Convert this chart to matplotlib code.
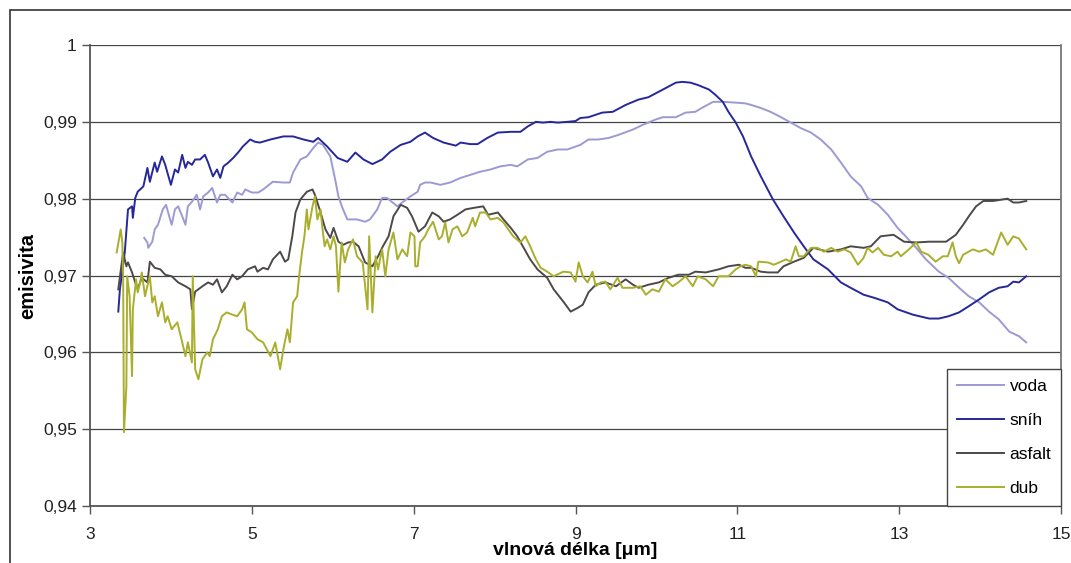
import matplotlib
matplotlib.use("Agg")
import matplotlib.pyplot as plt
from matplotlib.patches import Rectangle
from matplotlib.ticker import FuncFormatter, MultipleLocator

plt.rcParams["font.family"] = ["Liberation Sans", "DejaVu Sans"]

# emisivita vs. vlnová délka
voda_x = [3.67, 3.71, 3.72, 3.77, 3.80, 3.84, 3.90, 3.94, 3.99, 4.01, 4.05, 4.09, 4.14, 4.18,
          4.21, 4.26, 4.32, 4.36, 4.40, 4.46, 4.51, 4.57, 4.61, 4.67, 4.76, 4.82, 4.88, 4.92,
          5.00, 5.08, 5.14, 5.26, 5.39, 5.47, 5.51, 5.60, 5.68, 5.76, 5.82, 5.88, 5.97, 6.03,
          6.07, 6.12, 6.18, 6.30, 6.40, 6.46, 6.55, 6.61, 6.67, 6.74, 6.80, 6.87, 6.96, 7.05,
          7.08, 7.14, 7.21, 7.33, 7.45, 7.58, 7.70, 7.82, 7.95, 8.07, 8.20, 8.28, 8.41, 8.53,
          8.65, 8.78, 8.90, 9.06, 9.16, 9.28, 9.41, 9.53, 9.71, 9.83, 9.99, 10.08, 10.24, 10.36,
          10.48, 10.56, 10.70, 10.82, 10.98, 11.10, 11.17, 11.29, 11.41, 11.54, 11.66, 11.78,
          11.91, 12.03, 12.16, 12.28, 12.40, 12.53, 12.61, 12.74, 12.86, 12.98, 13.08, 13.21,
          13.33, 13.49, 13.61, 13.74, 13.86, 13.99, 14.11, 14.23, 14.36, 14.48, 14.57]
voda_y = [0.9749, 0.9743, 0.9736, 0.9744, 0.9760, 0.9766, 0.9786, 0.9792, 0.9773, 0.9766,
          0.9786, 0.9790, 0.9777, 0.9766, 0.9790, 0.9796, 0.9805, 0.9786, 0.9803, 0.9808,
          0.9814, 0.9795, 0.9805, 0.9805, 0.9795, 0.9808, 0.9805, 0.9812, 0.9808, 0.9808,
          0.9812, 0.9822, 0.9821, 0.9821, 0.9834, 0.9851, 0.9855, 0.9866, 0.9873, 0.9870,
          0.9855, 0.9825, 0.9803, 0.9788, 0.9773, 0.9773, 0.9770, 0.9773, 0.9786, 0.9801,
          0.9801, 0.9795, 0.9790, 0.9796, 0.9803, 0.9809, 0.9818, 0.9821, 0.9821, 0.9818,
          0.9821, 0.9827, 0.9831, 0.9835, 0.9838, 0.9842, 0.9844, 0.9842, 0.9851, 0.9853,
          0.9861, 0.9864, 0.9864, 0.9870, 0.9877, 0.9877, 0.9879, 0.9883, 0.9890, 0.9896,
          0.9903, 0.9906, 0.9906, 0.9912, 0.9913, 0.9918, 0.9926, 0.9926, 0.9925, 0.9924,
          0.9922, 0.9918, 0.9913, 0.9906, 0.9899, 0.9892, 0.9886, 0.9877, 0.9864, 0.9847,
          0.9829, 0.9816, 0.9801, 0.9792, 0.9779, 0.9762, 0.9751, 0.9736, 0.9721, 0.9705,
          0.9697, 0.9684, 0.9673, 0.9665, 0.9653, 0.9643, 0.9627, 0.9621, 0.9613]

snih_x = [3.35, 3.37, 3.43, 3.47, 3.52, 3.53, 3.56, 3.59, 3.66, 3.71, 3.74, 3.80, 3.83, 3.89,
          3.93, 4.00, 4.05, 4.09, 4.14, 4.18, 4.21, 4.26, 4.30, 4.36, 4.42, 4.46, 4.52, 4.57,
          4.61, 4.65, 4.71, 4.77, 4.83, 4.89, 4.98, 5.04, 5.10, 5.23, 5.39, 5.51, 5.64, 5.76,
          5.82, 5.93, 6.06, 6.18, 6.28, 6.38, 6.49, 6.61, 6.71, 6.84, 6.96, 7.05, 7.14, 7.24,
          7.37, 7.52, 7.58, 7.70, 7.79, 7.91, 8.04, 8.20, 8.32, 8.41, 8.51, 8.60, 8.69, 8.78,
          8.90, 9.00, 9.06, 9.16, 9.33, 9.46, 9.62, 9.78, 9.90, 10.08, 10.24, 10.32, 10.42,
          10.51, 10.65, 10.73, 10.82, 10.89, 10.98, 11.07, 11.17, 11.29, 11.44, 11.57, 11.70,
          11.82, 11.94, 12.12, 12.28, 12.40, 12.56, 12.69, 12.86, 12.98, 13.17, 13.37, 13.49,
          13.61, 13.74, 13.86, 13.99, 14.11, 14.23, 14.34, 14.41, 14.48, 14.57]
snih_y = [0.9653, 0.9682, 0.9730, 0.9786, 0.9790, 0.9775, 0.9801, 0.9809, 0.9816, 0.9840,
          0.9822, 0.9847, 0.9835, 0.9855, 0.9844, 0.9818, 0.9838, 0.9834, 0.9857, 0.9840,
          0.9848, 0.9844, 0.9851, 0.9851, 0.9857, 0.9847, 0.9829, 0.9838, 0.9827, 0.9842,
          0.9847, 0.9853, 0.9860, 0.9868, 0.9877, 0.9874, 0.9873, 0.9877, 0.9881, 0.9881,
          0.9877, 0.9874, 0.9879, 0.9868, 0.9853, 0.9848, 0.9860, 0.9851, 0.9845, 0.9851,
          0.9861, 0.9870, 0.9874, 0.9881, 0.9886, 0.9879, 0.9873, 0.9869, 0.9873, 0.9871,
          0.9871, 0.9879, 0.9886, 0.9887, 0.9887, 0.9894, 0.9900, 0.9899, 0.9900, 0.9899,
          0.9900, 0.9901, 0.9905, 0.9906, 0.9912, 0.9913, 0.9922, 0.9929, 0.9932, 0.9942,
          0.9951, 0.9952, 0.9951, 0.9948, 0.9942, 0.9935, 0.9926, 0.9913, 0.9899, 0.9881,
          0.9855, 0.9829, 0.9799, 0.9777, 0.9756, 0.9738, 0.9721, 0.9708, 0.9691, 0.9684,
          0.9675, 0.9671, 0.9665, 0.9656, 0.9649, 0.9644, 0.9644, 0.9647, 0.9652, 0.9660,
          0.9669, 0.9678, 0.9684, 0.9686, 0.9692, 0.9691, 0.9699]

asfalt_x = [3.35, 3.41, 3.45, 3.47, 3.52, 3.56, 3.59, 3.64, 3.71, 3.74, 3.80, 3.87, 3.93, 4.01,
            4.09, 4.18, 4.24, 4.26, 4.30, 4.39, 4.46, 4.52, 4.57, 4.63, 4.69, 4.76, 4.82, 4.88,
            4.95, 5.04, 5.07, 5.14, 5.20, 5.26, 5.35, 5.41, 5.45, 5.50, 5.54, 5.60, 5.68, 5.75,
            5.78, 5.85, 5.91, 5.97, 6.01, 6.07, 6.13, 6.19, 6.25, 6.32, 6.40, 6.49, 6.56, 6.62,
            6.69, 6.75, 6.84, 6.92, 6.98, 7.06, 7.14, 7.23, 7.31, 7.37, 7.45, 7.54, 7.64, 7.74,
            7.86, 7.92, 8.04, 8.11, 8.20, 8.28, 8.36, 8.44, 8.53, 8.65, 8.73, 8.85, 8.94, 9.03,
            9.09, 9.16, 9.25, 9.37, 9.50, 9.62, 9.71, 9.78, 9.90, 10.03, 10.15, 10.27, 10.40,
            10.48, 10.61, 10.77, 10.89, 11.02, 11.10, 11.17, 11.29, 11.38, 11.50, 11.57, 11.70,
            11.82, 11.94, 12.12, 12.28, 12.40, 12.56, 12.65, 12.77, 12.93, 13.06, 13.21, 13.37,
            13.58, 13.70, 13.79, 13.86, 13.95, 14.04, 14.16, 14.28, 14.34, 14.41, 14.48, 14.57]
asfalt_y = [0.9682, 0.9730, 0.9712, 0.9717, 0.9704, 0.9691, 0.9682, 0.9697, 0.9691, 0.9718,
            0.9710, 0.9708, 0.9701, 0.9699, 0.9691, 0.9686, 0.9682, 0.9656, 0.9679, 0.9686,
            0.9691, 0.9688, 0.9695, 0.9678, 0.9686, 0.9701, 0.9695, 0.9699, 0.9708, 0.9712,
            0.9705, 0.9710, 0.9708, 0.9721, 0.9731, 0.9718, 0.9721, 0.9751, 0.9782, 0.9799,
            0.9809, 0.9812, 0.9805, 0.9782, 0.9760, 0.9749, 0.9762, 0.9744, 0.9740, 0.9743,
            0.9744, 0.9738, 0.9717, 0.9712, 0.9725, 0.9738, 0.9751, 0.9777, 0.9792, 0.9788,
            0.9777, 0.9757, 0.9764, 0.9782, 0.9777, 0.9770, 0.9773, 0.9779, 0.9786, 0.9788,
            0.9790, 0.9779, 0.9782, 0.9773, 0.9762, 0.9751, 0.9736, 0.9721, 0.9708, 0.9697,
            0.9682, 0.9666, 0.9653, 0.9658, 0.9662, 0.9678, 0.9688, 0.9691, 0.9686, 0.9695,
            0.9688, 0.9684, 0.9688, 0.9691, 0.9697, 0.9701, 0.9701, 0.9705, 0.9704, 0.9708,
            0.9712, 0.9714, 0.9710, 0.9710, 0.9705, 0.9704, 0.9704, 0.9712, 0.9718, 0.9723,
            0.9736, 0.9731, 0.9734, 0.9738, 0.9736, 0.9738, 0.9751, 0.9753, 0.9744, 0.9743,
            0.9744, 0.9744, 0.9753, 0.9766, 0.9777, 0.9790, 0.9797, 0.9797, 0.9799, 0.9800,
            0.9795, 0.9795, 0.9797]

dub_x = [3.33, 3.38, 3.40, 3.41, 3.42, 3.45, 3.46, 3.49, 3.52, 3.53, 3.57, 3.59, 3.62, 3.64,
         3.68, 3.72, 3.74, 3.77, 3.80, 3.84, 3.89, 3.93, 3.96, 4.01, 4.08, 4.14, 4.18, 4.21,
         4.26, 4.27, 4.30, 4.34, 4.39, 4.45, 4.48, 4.52, 4.58, 4.63, 4.69, 4.76, 4.82, 4.88,
         4.91, 4.94, 5.00, 5.07, 5.14, 5.23, 5.29, 5.35, 5.39, 5.44, 5.47, 5.51, 5.56, 5.59,
         5.62, 5.65, 5.68, 5.70, 5.75, 5.78, 5.81, 5.85, 5.87, 5.90, 5.93, 5.97, 6.01, 6.04,
         6.07, 6.11, 6.15, 6.19, 6.25, 6.30, 6.37, 6.43, 6.45, 6.49, 6.53, 6.56, 6.61, 6.65,
         6.69, 6.75, 6.80, 6.86, 6.92, 6.96, 7.01, 7.02, 7.05, 7.08, 7.14, 7.18, 7.24, 7.31,
         7.35, 7.39, 7.43, 7.48, 7.54, 7.60, 7.66, 7.73, 7.76, 7.82, 7.89, 7.95, 8.04, 8.11,
         8.17, 8.23, 8.32, 8.38, 8.44, 8.51, 8.57, 8.65, 8.73, 8.85, 8.94, 9.00, 9.04, 9.09,
         9.15, 9.21, 9.25, 9.31, 9.37, 9.43, 9.52, 9.58, 9.71, 9.80, 9.87, 9.95, 10.03, 10.11,
         10.20, 10.27, 10.36, 10.45, 10.51, 10.61, 10.70, 10.77, 10.89, 10.98, 11.04, 11.10,
         11.17, 11.23, 11.26, 11.38, 11.45, 11.54, 11.60, 11.66, 11.72, 11.76, 11.82, 11.91,
         11.99, 12.07, 12.16, 12.24, 12.32, 12.40, 12.49, 12.56, 12.61, 12.67, 12.74, 12.81,
         12.90, 12.98, 13.02, 13.12, 13.21, 13.27, 13.36, 13.45, 13.54, 13.60, 13.66, 13.70,
         13.74, 13.79, 13.91, 13.99, 14.07, 14.16, 14.26, 14.34, 14.41, 14.48, 14.57]
dub_y = [0.9730, 0.9760, 0.9743, 0.9699, 0.9496, 0.9556, 0.9699, 0.9673, 0.9569, 0.9656,
         0.9695, 0.9678, 0.9691, 0.9704, 0.9673, 0.9691, 0.9699, 0.9665, 0.9673, 0.9647,
         0.9665, 0.9639, 0.9647, 0.9630, 0.9639, 0.9613, 0.9595, 0.9613, 0.9587, 0.9699,
         0.9578, 0.9565, 0.9591, 0.9600, 0.9595, 0.9617, 0.9630, 0.9647, 0.9652, 0.9649,
         0.9647, 0.9656, 0.9665, 0.9630, 0.9626, 0.9617, 0.9613, 0.9595, 0.9613, 0.9578,
         0.9604, 0.9630, 0.9613, 0.9665, 0.9673, 0.9704, 0.9730, 0.9751, 0.9786, 0.9760,
         0.9790, 0.9803, 0.9773, 0.9786, 0.9764, 0.9738, 0.9747, 0.9734, 0.9751, 0.9738,
         0.9679, 0.9743, 0.9717, 0.9734, 0.9747, 0.9725, 0.9717, 0.9656, 0.9751, 0.9652,
         0.9725, 0.9708, 0.9734, 0.9699, 0.9734, 0.9756, 0.9721, 0.9734, 0.9725, 0.9756,
         0.9751, 0.9712, 0.9712, 0.9743, 0.9751, 0.9760, 0.9770, 0.9747, 0.9751, 0.9769,
         0.9743, 0.9760, 0.9764, 0.9751, 0.9756, 0.9775, 0.9764, 0.9782, 0.9782, 0.9773,
         0.9775, 0.9769, 0.9760, 0.9751, 0.9743, 0.9751, 0.9738, 0.9721, 0.9710, 0.9705,
         0.9699, 0.9705, 0.9704, 0.9692, 0.9717, 0.9699, 0.9691, 0.9705, 0.9686, 0.9691,
         0.9692, 0.9682, 0.9697, 0.9684, 0.9684, 0.9686, 0.9675, 0.9682, 0.9679, 0.9695,
         0.9686, 0.9691, 0.9699, 0.9686, 0.9699, 0.9695, 0.9686, 0.9699, 0.9699, 0.9708,
         0.9712, 0.9714, 0.9712, 0.9699, 0.9718, 0.9717, 0.9714, 0.9718, 0.9721, 0.9718,
         0.9738, 0.9725, 0.9725, 0.9736, 0.9736, 0.9731, 0.9736, 0.9731, 0.9734, 0.9730,
         0.9714, 0.9723, 0.9736, 0.9730, 0.9736, 0.9727, 0.9725, 0.9731, 0.9725, 0.9734,
         0.9743, 0.9731, 0.9727, 0.9718, 0.9725, 0.9725, 0.9743, 0.9725, 0.9716, 0.9727,
         0.9734, 0.9731, 0.9734, 0.9727, 0.9756, 0.9740, 0.9751, 0.9748, 0.9734]

labels = ["voda", "sníh", "asfalt", "dub"]
colors = ["#9d99d3", "#26289a", "#4e4949", "#a9ae2c"]
x_ticks = [3, 5, 7, 9, 11, 13, 15]


def fmt_comma(v, pos):
    # Czech decimal comma, like the original chart
    return ("%g" % round(v, 2)).replace(".", ",")


fig = plt.figure(figsize=(10.71, 5.63), dpi=100)
ax = fig.add_axes([0.084, 0.1012, 0.9067, 0.8189])

series = [(voda_x, voda_y), (snih_x, snih_y), (asfalt_x, asfalt_y), (dub_x, dub_y)]
for (xs, ys), lab, col in zip(series, labels, colors):
    ax.plot(xs, ys, color=col, lw=1.4, label=lab)

ax.set_xlim(3, 15)
ax.set_ylim(0.94, 1.0)
ax.set_xticks(x_ticks)
ax.yaxis.set_major_locator(MultipleLocator(0.01))
ax.yaxis.set_major_formatter(FuncFormatter(fmt_comma))
ax.grid(axis="y", color="#444444", lw=0.9)
ax.set_axisbelow(True)

for side in ["left", "bottom"]:
    ax.spines[side].set_color("#555555")
    ax.spines[side].set_linewidth(1.3)
ax.spines["right"].set_color("#777777")
ax.spines["right"].set_linewidth(1.3)
ax.spines["top"].set_visible(False)
ax.tick_params(direction="out", length=6, width=1, color="#555555",
               labelsize=12.5, labelcolor="#222222")
ax.tick_params(axis="x", pad=9)

ax.set_xlabel("vlnová délka [μm]", fontsize=14, fontweight="bold", labelpad=0)
ax.set_ylabel("emisivita", fontsize=14.5, fontweight="bold", labelpad=4)

leg = ax.legend(loc="lower right", bbox_to_anchor=(1.0, 0.0), fontsize=12.5,
                frameon=True, fancybox=False, edgecolor="#444444", framealpha=1,
                borderaxespad=0, handlelength=2.7, handletextpad=0.35,
                labelspacing=1.1, borderpad=0.55)
leg.get_frame().set_linewidth(1.0)

# outer chart frame (runs off the right and bottom edge of the picture)
fig.patches.append(Rectangle((10 / 1071, -0.1), 1.2, 1.1 - 10 / 563, fill=False,
                             edgecolor="#333333", lw=1.2, transform=fig.transFigure))

fig.savefig("out.png", dpi=100)
